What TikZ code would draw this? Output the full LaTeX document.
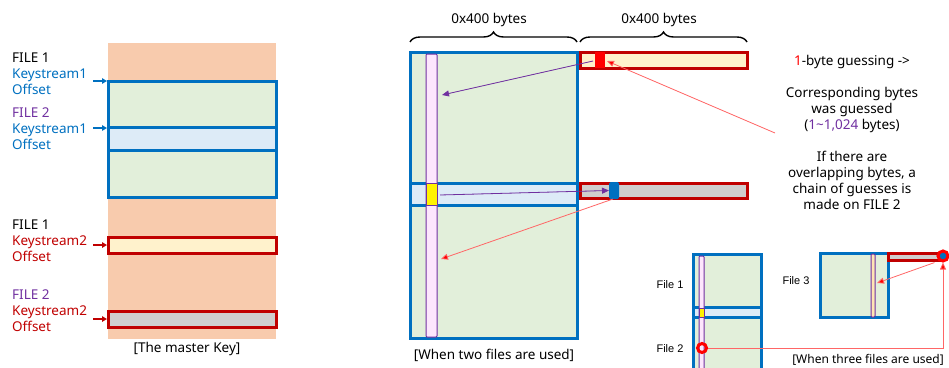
\documentclass[tikz,border=0pt]{standalone}
\usepackage{fontspec}
\setmainfont{Noto Sans}
\newfontfamily\arialf{Liberation Sans}
\usetikzlibrary{arrows.meta,decorations.pathreplacing,calc}
\definecolor{peach}{HTML}{F8CBAD}
\definecolor{lgreen}{HTML}{E2EFDA}
\definecolor{lblue}{HTML}{DDEBF7}
\definecolor{mblue}{HTML}{0070C0}
\definecolor{dred}{HTML}{C00000}
\definecolor{cream}{HTML}{FFF2CC}
\definecolor{lgray}{HTML}{D0CECE}
\definecolor{lpink}{HTML}{FDE6FD}
\definecolor{purp}{HTML}{7030A0}
\definecolor{bred}{HTML}{FF0000}
\definecolor{lred}{HTML}{FF6666}
\definecolor{ltan}{HTML}{FFE6B3}
\begin{document}
\begin{tikzpicture}[x=1pt,y=-1pt,
  font=\fontsize{13.5}{16}\selectfont,
  rbox/.style={anchor=north west,inner sep=0pt,outer sep=0pt},
  bluebox/.style={rbox,fill=lgreen,draw=mblue,line width=3pt},
  blueband/.style={rbox,fill=lblue,draw=mblue,line width=3pt},
  redbar/.style={rbox,draw=dred,line width=3pt},
  pstrip/.style={rbox,fill=lpink,draw=purp,line width=1pt,rounded corners=1pt},
  lbl/.style={anchor=base west,inner sep=0pt},
  smallarr/.style={line width=1.3pt,-{Triangle[length=5pt,width=5.5pt]}},
  parr/.style={draw=purp,line width=0.8pt,-{Triangle[length=7pt,width=6pt]},fill=purp},
  rarr/.style={draw=lred,line width=0.8pt,-{Triangle[length=7pt,width=6pt,fill=bred]}},
  bracestyle/.style={decorate,decoration={brace,amplitude=10pt},line width=1.4pt},
  smalltxt/.style={font=\arialf\fontsize{11}{13}\selectfont,inner sep=0pt}
]
\useasboundingbox (0,0) rectangle (949,367);

% ---------------- left: the master key
\node[rbox,fill=peach,minimum width=168pt,minimum height=296pt] (master) at (108,43) {};
\node[bluebox,minimum width=168pt,minimum height=116pt] (ks1) at (108,81) {};
\node[blueband,minimum width=168pt,minimum height=23pt] (ks1b) at (108,127) {};
\node[redbar,fill=cream,minimum width=168pt,minimum height=16pt] (ks2a) at (108,237) {};
\node[redbar,fill=lgray,minimum width=168pt,minimum height=16pt] (ks2b) at (108,311) {};

\node[lbl] (l1a) at (12,62) {FILE 1};
\node[lbl,text=mblue] (l1b) at (12,78) {Keystream1};
\node[lbl,text=mblue] (l1c) at (12,94) {Offset};
\node[lbl,text=purp] (l2a) at (12,117) {FILE 2};
\node[lbl,text=mblue] (l2b) at (12,133) {Keystream1};
\node[lbl,text=mblue] (l2c) at (12,149) {Offset};
\node[lbl] (l3a) at (12,229) {FILE 1};
\node[lbl,text=dred] (l3b) at (12,245) {Keystream2};
\node[lbl,text=dred] (l3c) at (12,261) {Offset};
\node[lbl,text=purp] (l4a) at (12,299) {FILE 2};
\node[lbl,text=dred] (l4b) at (12,315) {Keystream2};
\node[lbl,text=dred] (l4c) at (12,331) {Offset};

\draw[smallarr,mblue] ($(ks1.north west)+(-15,0)$) -- ($(ks1.north west)+(-1,0)$);
\draw[smallarr,mblue] ($(ks1b.north west)+(-15,1)$) -- ($(ks1b.north west)+(-1,1)$);
\draw[smallarr,dred] ($(ks2a.west)+(-15,0)$) -- ($(ks2a.west)+(-1,0)$);
\draw[smallarr,dred] ($(ks2b.west)+(-15,0)$) -- ($(ks2b.west)+(-1,0)$);

\node[anchor=center] (mlab) at (187,349) {[The master Key]};

% ---------------- middle: two files
\node[bluebox,minimum width=167pt,minimum height=286pt] (big) at (410,52) {};
\node[blueband,minimum width=167pt,minimum height=22pt] (bigb) at (410,183) {};
\node[pstrip,minimum width=11pt,minimum height=283pt] (strip) at (426,54) {};
\node[pstrip,fill=yellow,rounded corners=0pt,minimum width=11pt,minimum height=22pt] (yel) at (426,183) {};
\node[redbar,fill=cream,minimum width=167pt,minimum height=16pt] (bar1) at (580,52) {};
\node[rbox,fill=bred,minimum width=10pt,minimum height=16pt] (redblk) at (595,52) {};
\node[redbar,fill=lgray,minimum width=167pt,minimum height=15pt] (bar2) at (580,183) {};
\node[rbox,fill=mblue,rounded corners=1.5pt,minimum width=10pt,minimum height=17pt] (blueblk) at (609,182) {};

\draw[bracestyle] (410,42) -- (577,42);
\draw[bracestyle] (580,42) -- (747,42);
\node (b1) at (489,20) {0x400 bytes};
\node (b2) at (659,20) {0x400 bytes};

\coordinate (p1end) at (442,95);
\coordinate (r1start) at (775,133);
\coordinate (r1end) at (607,61);
\coordinate (r2end) at (441,259);
\draw[parr] ($(redblk.west)+(-2,1)$) -- (p1end);
\draw[rarr] (r1start) -- (r1end);
\draw[parr] ($(yel.east)+(3,1)$) -- (blueblk.west);
\draw[rarr] ($(blueblk.south)+(-1,0)$) -- (r2end);

\node (tlab) at (494,355) {[When two files are used]};

% ---------------- right text
\node[align=center] (expl) at (852,132) {{\color{bred}1}-byte guessing ->\\[16pt]
Corresponding bytes\\was guessed\\({\color{purp}1\char"7E 1,024} bytes)\\[16pt]
If there are\\overlapping bytes, a\\chain of guesses is\\made on FILE 2};

% ---------------- bottom right: three files
\node[bluebox,minimum width=68pt,minimum height=125pt] (f12) at (693,254) {};
\node[blueband,minimum width=68pt,minimum height=10pt] (f12b) at (693,307) {};
\node[pstrip,minimum width=5pt,minimum height=125pt] (f12s) at (699,256) {};
\node[pstrip,fill=yellow,rounded corners=0pt,minimum width=5pt,minimum height=9pt] (f12y) at (699,308) {};
\node[circle,draw=bred,line width=3pt,minimum size=9pt,inner sep=0pt] (ring1) at (702,348) {};

\node[bluebox,minimum width=68pt,minimum height=64pt] (f3) at (820,253) {};
\node[pstrip,fill=ltan,minimum width=4pt,minimum height=63pt] (f3s) at (871,254) {};
\node[redbar,fill=lgray,minimum width=54pt,minimum height=7pt] (f3bar) at (888,253) {};
\node[circle,draw=bred,fill=mblue,line width=3pt,minimum size=10pt,inner sep=0pt] (ring2) at (943,256) {};

\draw[draw=lred,line width=0.8pt] (ring1.east) -| (943,290);
\draw[rarr] (943,290) -- (ring2.south);
\coordinate (r3end) at (877,283);
\draw[rarr] ($(ring2.south west)+(-4,2)$) -- (r3end);

\node[smalltxt] (fl1) at (670,285) {File 1};
\node[smalltxt] (fl2) at (670,349) {File 2};
\node[smalltxt] (fl3) at (796,281) {File 3};
\node[anchor=base,inner sep=0pt,font=\fontsize{12}{14}\selectfont] (thlab) at (868,363) {[When three files are used]};
\end{tikzpicture}
\end{document}
